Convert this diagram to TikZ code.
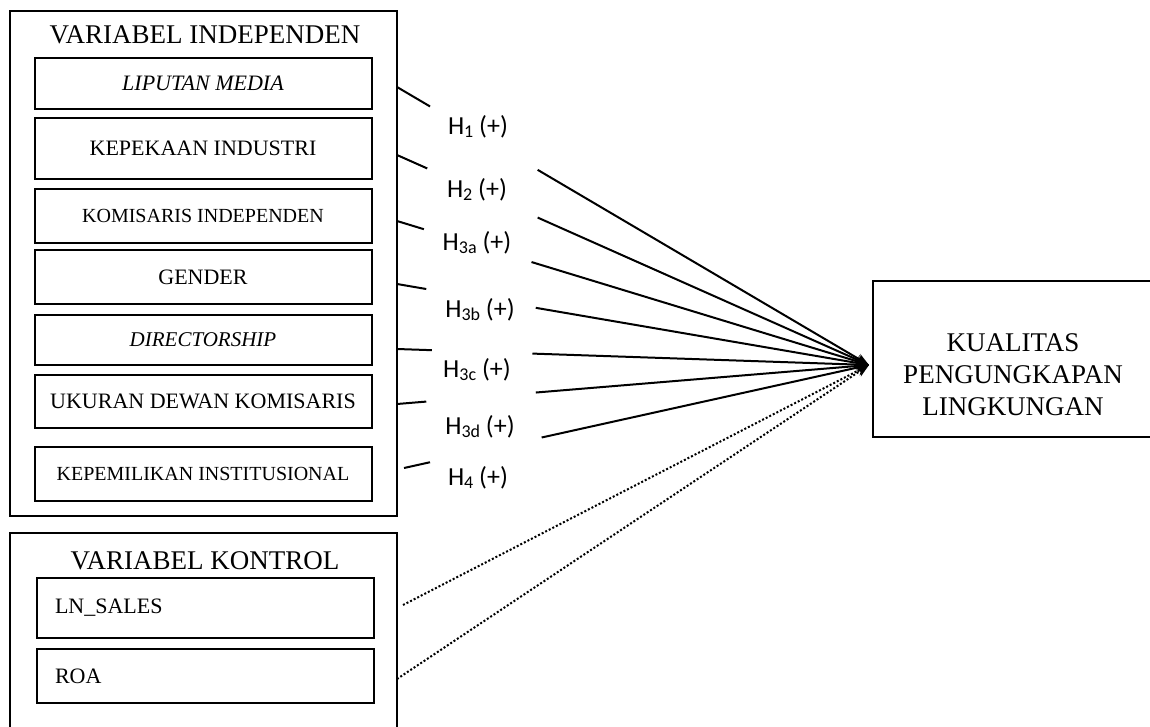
\documentclass[tikz,border=0pt]{standalone}
\usepackage{fontspec}
\setmainfont{Liberation Serif}
\newfontfamily\hfont{Carlito}
\usetikzlibrary{calc, positioning, arrows.meta}

\newcommand{\hyp}[1]{H\raisebox{-0.25ex}{\fontsize{18}{18}\selectfont #1}\ (+)}

\begin{document}
\begin{tikzpicture}[>={Stealth[length=13pt,width=10pt]}, x=1pt, y=-1pt, line width=2pt, every node/.style={font=\fontsize{22}{26}\selectfont}]
  \tikzset{group/.style={draw, minimum width=387pt, inner sep=0pt},
    vbox/.style={draw, minimum width=337pt, inner sep=0pt, align=center},
    title/.style={font=\fontsize{27}{32}\selectfont, inner sep=0pt},
    hyp/.style={font=\hfont\fontsize{26}{30}\selectfont, inner sep=0pt}}
  \useasboundingbox (0,0) rectangle (1150,727);

  \node[group, minimum height=505pt] (indep) at (203.5,263.5) {};
  \node[title] (tindep) at (205,35) {VARIABEL INDEPENDEN};
  \node[vbox, minimum height=51pt] (media) at (203,83.5) {\textit{LIPUTAN MEDIA}};
  \node[vbox, minimum height=61pt, below=7pt of media] (peka) {KEPEKAAN INDUSTRI};
  \node[vbox, minimum height=54pt, below=8pt of peka, font=\fontsize{20}{24}\selectfont] (kom) {KOMISARIS INDEPENDEN};
  \node[vbox, minimum height=54pt, below=5pt of kom] (gen) {GENDER};
  \node[vbox, minimum height=50pt, below=9pt of gen, font=\fontsize{21}{25}\selectfont] (dir) {\textit{DIRECTORSHIP}};
  \node[vbox, minimum height=53pt, below=8pt of dir] (dewan) {UKURAN DEWAN KOMISARIS};
  \node[vbox, minimum height=54pt, below=17pt of dewan, font=\fontsize{20}{24}\selectfont] (inst) {KEPEMILIKAN INSTITUSIONAL};

  \node[group, minimum height=212pt] (kontrol) at (203.5,639) {};
  \node[title] (tkontrol) at (205,561) {VARIABEL KONTROL};
  \node[vbox, minimum height=60pt, text width=300pt, align=left] (sales) at (205,608) {LN\_SALES};
  \node[vbox, minimum height=54pt, text width=300pt, align=left, below=9pt of sales] (roa) {ROA};

  \node[group, minimum width=287pt, minimum height=156pt] (kpl) at (1016.5,359) {};
  \node[title, align=center] (tkpl) at (1013,375) {KUALITAS\\PENGUNGKAPAN\\LINGKUNGAN};

  % each path is cut where its hypothesis label sits
  \coordinate (tip) at ($(kpl.west)+(-3,6)$);
  \coordinate (a1) at (397,87);
  \coordinate (a2) at (397,155);
  \coordinate (a3a) at (397,221);
  \coordinate (a3b) at (397,284);
  \coordinate (a3c) at (397,349);
  \coordinate (a3d) at (397,404);
  \coordinate (a4) at (404,468);
  \draw (a1) -- ($(a1)!0.07!(tip)$);
  \draw[->] ($(a1)!0.298!(tip)$) -- (tip);
  \draw (a2) -- ($(a2)!0.064!(tip)$);
  \draw[->] ($(a2)!0.298!(tip)$) -- (tip);
  \draw (a3a) -- ($(a3a)!0.057!(tip)$);
  \draw[->] ($(a3a)!0.285!(tip)$) -- (tip);
  \draw (a3b) -- ($(a3b)!0.062!(tip)$);
  \draw[->] ($(a3b)!0.294!(tip)$) -- (tip);
  \draw (a3c) -- ($(a3c)!0.074!(tip)$);
  \draw[->] ($(a3c)!0.287!(tip)$) -- (tip);
  \draw (a3d) -- ($(a3d)!0.062!(tip)$);
  \draw[->] ($(a3d)!0.294!(tip)$) -- (tip);
  \draw (a4) -- ($(a4)!0.056!(tip)$);
  \draw[->] ($(a4)!0.296!(tip)$) -- (tip);

  \node[hyp] (h1) at (478,127) {\hyp{1}};
  \node[hyp] (h2) at (477,190) {\hyp{2}};
  \node[hyp] (h3a) at (477,243) {\hyp{3a}};
  \node[hyp] (h3b) at (480,310) {\hyp{3b}};
  \node[hyp] (h3c) at (477,370) {\hyp{3c}};
  \node[hyp] (h3d) at (480,427) {\hyp{3d}};
  \node[hyp] (h4) at (478,478) {\hyp{4}};

  \coordinate (c1) at (403,605);
  \coordinate (c2) at (397,679);
  \draw[->, dash pattern=on 2pt off 2pt] (c1) -- (tip);
  \draw[->, dash pattern=on 2pt off 2pt] (c2) -- (tip);
\end{tikzpicture}
\end{document}
